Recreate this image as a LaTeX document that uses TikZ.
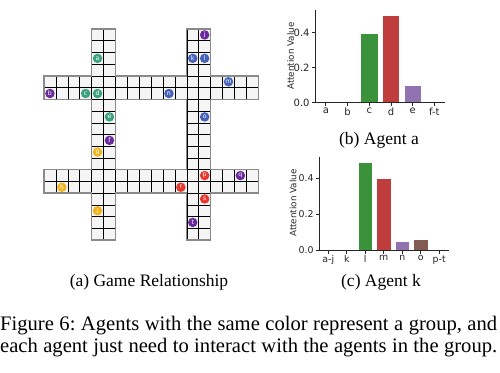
\documentclass[tikz,border=0pt]{standalone}
\usepackage{fontspec}
\setmainfont{Liberation Serif}
\newfontfamily\plotfont{DejaVu Sans}
\usetikzlibrary{positioning}
\definecolor{AgentTeal}{HTML}{3BA17F}
\definecolor{AgentPurple}{HTML}{6A2A9C}
\definecolor{AgentBlue}{HTML}{4562B8}
\definecolor{AgentRed}{HTML}{E8372B}
\definecolor{AgentYellow}{HTML}{F2B41C}
\definecolor{CellFill}{HTML}{F5F5F5}
\definecolor{RoadEdge}{HTML}{8A8A8A}
\definecolor{BarGreen}{HTML}{3A923A}
\definecolor{BarRed}{HTML}{C03D3E}
\definecolor{BarPurple}{HTML}{9372B2}
\definecolor{BarBrown}{HTML}{845B53}
\definecolor{SpineGray}{HTML}{262626}
\frenchspacing

\begin{document}
\begin{tikzpicture}[
    x=1pt,y=-1pt,
    road/.style={fill=CellFill},
    cellline/.style={draw=black,line width=0.6pt},
    roadedge/.style={draw=RoadEdge,line width=1.3pt,line join=miter},
    agent/.style={
      circle,
      fill=#1,
      text=white,
      inner sep=0pt,
      minimum size=9.5pt,
      font=\plotfont\fontsize{6.2}{6.2}\selectfont
    },
    bar/.style={fill=#1,draw=white,line width=0.4pt},
    spine/.style={draw=SpineGray,line width=0.8pt},
    tick/.style={font=\plotfont\fontsize{#1}{#1}\selectfont,text=SpineGray,inner sep=1.5pt},
    subcap/.style={font=\fontsize{17.5}{20}\selectfont},
    figcap/.style={font=\fontsize{20.6}{24}\selectfont,inner sep=0pt,anchor=west}
  ]
  \useasboundingbox (0,0) rectangle (500,372);

  % Game board
  \begin{scope}[shift={(44,240)},x=11.9pt,y=11.72pt]
    \fill[road] (4,0) rectangle (6,18) (12,0) rectangle (14,18)
                (0,4) rectangle (18,6) (0,12) rectangle (18,14);
    \draw[cellline,step=1] (4,0) grid (6,18) (12,0) grid (14,18)
                           (0,4) grid (18,6) (0,12) grid (18,14);
    \draw[roadedge] (4,0) -- (6,0) -- (6,4) -- (12,4) -- (12,0) -- (14,0)
      -- (14,4) -- (18,4) -- (18,6) -- (14,6) -- (14,12) -- (18,12)
      -- (18,14) -- (14,14) -- (14,18) -- (12,18) -- (12,14) -- (6,14)
      -- (6,18) -- (4,18) -- (4,14) -- (0,14) -- (0,12) -- (4,12)
      -- (4,6) -- (0,6) -- (0,4) -- (4,4) -- cycle
      (6,6) rectangle (12,12);

    % Agents
    \node[agent=AgentTeal]   (a) at (4.5,15.5)  {a};
    \node[agent=AgentPurple] (b) at (0.5,12.5)  {b};
    \node[agent=AgentTeal]   (c) at (3.5,12.5)  {c};
    \node[agent=AgentTeal]   (d) at (4.5,12.5)  {d};
    \node[agent=AgentTeal]   (e) at (5.5,10.5)  {e};
    \node[agent=AgentPurple] (f) at (5.5,8.5)   {f};
    \node[agent=AgentYellow] (g) at (4.5,7.5)   {g};
    \node[agent=AgentYellow] (h) at (1.5,4.5)   {h};
    \node[agent=AgentYellow] (i) at (4.5,2.5)   {i};
    \node[agent=AgentPurple] (j) at (13.5,17.5) {j};
    \node[agent=AgentBlue]   (k) at (12.5,15.5) {k};
    \node[agent=AgentBlue]   (l) at (13.5,15.5) {l};
    \node[agent=AgentBlue]   (m) at (15.5,13.5) {m};
    \node[agent=AgentBlue]   (n) at (10.5,12.5) {n};
    \node[agent=AgentBlue]   (o) at (13.5,10.5) {o};
    \node[agent=AgentRed]    (p) at (13.5,5.5)  {p};
    \node[agent=AgentPurple] (q) at (16.5,5.5)  {q};
    \node[agent=AgentRed]    (r) at (11.5,4.5)  {r};
    \node[agent=AgentRed]    (s) at (13.5,3.5)  {s};
    \node[agent=AgentPurple] (t) at (12.5,1.5)  {t};
  \end{scope}

  % Attention of agent a
  \begin{scope}[shift={(315,102.7)},x=21.7pt,y=175pt]
    \fill[bar=BarGreen]  (2.1,0) rectangle (2.9,0.4);
    \fill[bar=BarRed]    (3.1,0) rectangle (3.9,0.5);
    \fill[bar=BarPurple] (4.1,0) rectangle (4.9,0.1);
    \draw[spine] (0,0.527) -- (0,0) -- (6,0);
    \foreach \lab [count=\i from 0] in {a,b,c,d,e,f-t}
      \draw[spine] (\i+0.5,0) -- ++(0,-3.5pt)
        node[tick=10,below] (ba\i) {\lab};
    \foreach \v in {0.0,0.2,0.4}
      \draw[spine] (0,\v) -- ++(-3.5pt,0)
        node[tick=10,left] (bv\v) {\v};
  \end{scope}
  \node[tick=8.8,rotate=90] (blab) at (290.5,56) {Attention Value};
  \node[subcap] (capb) at (379,140) {(b) Agent a};

  % Attention of agent k
  \begin{scope}[shift={(319,250)},x=18.5pt,y=179.5pt]
    \fill[bar=BarGreen]  (2.1,0) rectangle (2.9,0.49);
    \fill[bar=BarRed]    (3.1,0) rectangle (3.9,0.4);
    \fill[bar=BarPurple] (4.1,0) rectangle (4.9,0.05);
    \fill[bar=BarBrown]  (5.1,0) rectangle (5.9,0.06);
    \draw[spine] (0,0.52) -- (0,0) -- (7,0);
    \foreach \lab [count=\i from 0] in {a-j,k,l,m,n,o,p-t}
      \draw[spine] (\i+0.5,0) -- ++(0,-3.5pt)
        node[tick=9.4,below] (ka\i) {\lab};
    \foreach \v in {0.0,0.2,0.4}
      \draw[spine] (0,\v) -- ++(-3.5pt,0)
        node[tick=9.4,left] (kv\v) {\v};
  \end{scope}
  \node[tick=8.8,rotate=90] (klab) at (293,203) {Attention Value};
  \node[subcap] (capc) at (381,282) {(c) Agent k};

  % Captions
  \node[subcap] (capa) at (149,282) {(a) Game Relationship};
  \node[figcap] (cap1) at (0,326)
    {\makebox[497pt][s]{Figure 6: Agents with the same color represent a group, and}};
  \node[figcap] (cap2) at (0,348)
    {\makebox[497pt][s]{each agent just need to interact with the agents in the group.}};

\end{tikzpicture}
\end{document}
